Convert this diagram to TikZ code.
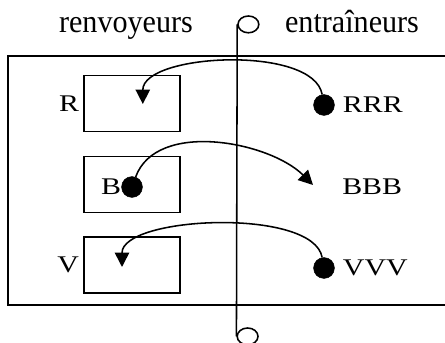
\documentclass[tikz,border=0pt]{standalone}
\usepackage{fontspec}
\setmainfont{Liberation Serif}
\newfontfamily\headfont{Liberation Serif}[FakeStretch=0.94]
\newfontfamily\labelfont{Liberation Serif}[FakeStretch=1.25]
\usetikzlibrary{arrows.meta}
\usetikzlibrary{positioning}
\usetikzlibrary{shapes.geometric}
\pgfdeclarelayer{edgelayer}
\pgfdeclarelayer{nodelayer}
\pgfsetlayers{edgelayer,nodelayer,main}
\tikzstyle{none}=[inner sep=0mm]
\tikzstyle{txt}=[inner sep=0mm,font=\labelfont\fontsize{17pt}{20pt}\selectfont]
\tikzstyle{head}=[inner sep=0mm,anchor=base,font=\headfont\fontsize{22.8pt}{26pt}\selectfont]
\tikzstyle{black dot}=[inner sep=0mm,minimum size=0.52cm,fill=black,draw=black,shape=circle]
\tikzstyle{dot}=[black dot]
\tikzstyle{ring}=[draw,shape=ellipse,inner sep=0mm,minimum width=0.52cm,minimum height=0.42cm,line width=1.1pt]
\tikzstyle{slot}=[draw,line width=1.1pt,minimum width=2.4cm,minimum height=1.4cm,inner sep=0mm]
\tikzstyle{diredge}=[line width=1.1pt,-{Triangle[length=0.36cm,width=0.36cm]}]

\begin{document}
\begin{tikzpicture}
	\useasboundingbox (0,0) rectangle (11.125,8.55);
	\begin{pgfonlayer}{nodelayer}
		\node [style=head] (left) at (3.15, 7.725) {renvoyeurs};
		\node [style=head] (right) at (8.8, 7.725) {entraîneurs};
		\node [style=ring] (ringtop) at (6.21, 7.94) {};
		\node [style=ring] (ringbot) at (6.19, 0.14) {};
		% the three slots on the left
		\node [style=slot] (boxR) at (3.3, 5.96) {};
		\node [style=slot] (boxB) at (3.3, 3.94) {};
		\node [style=slot] (boxV) at (3.3, 1.93) {};
		\node [style=txt] (r) [left=0.1 of boxR] {R};
		\node [style=txt] (v) [left=0.1 of boxV] {V};
		\node [style=dot] (dotB) at (3.3, 3.875) {};
		\node [style=txt] (b) [left=0 of dotB] {B};
		% the three on the right
		\node [style=dot] (dotR) at (8.1, 5.925) {};
		\node [style=dot] (dotV) at (8.1, 1.85) {};
		\node [style=txt] (rrr) [right=0.2 of dotR] {RRR};
		\node [style=txt] (vvv) [right=0.2 of dotV] {VVV};
		\node [style=txt, anchor=west] (bbb) at (8.55, 3.875) {BBB};
		\coordinate (tipR) at (3.57, 5.95);
		\coordinate (tipB) at (7.825, 3.925);
		\coordinate (tipV) at (3.05, 1.875);
	\end{pgfonlayer}
	\begin{pgfonlayer}{edgelayer}
		\draw [line width=1.1pt] (0.2, 0.925) rectangle (11.2, 7.15);
		\draw [line width=1.1pt] (ringbot.west) to (ringtop.west);
		\draw [style=diredge, out=100, in=90, looseness=0.72] (dotR) to (tipR);
		\draw [style=diredge, out=70, in=135, looseness=0.88] (dotB) to (tipB);
		\draw [style=diredge, out=100, in=90, looseness=0.65] (dotV) to (tipV);
	\end{pgfonlayer}
\end{tikzpicture}
\end{document}
